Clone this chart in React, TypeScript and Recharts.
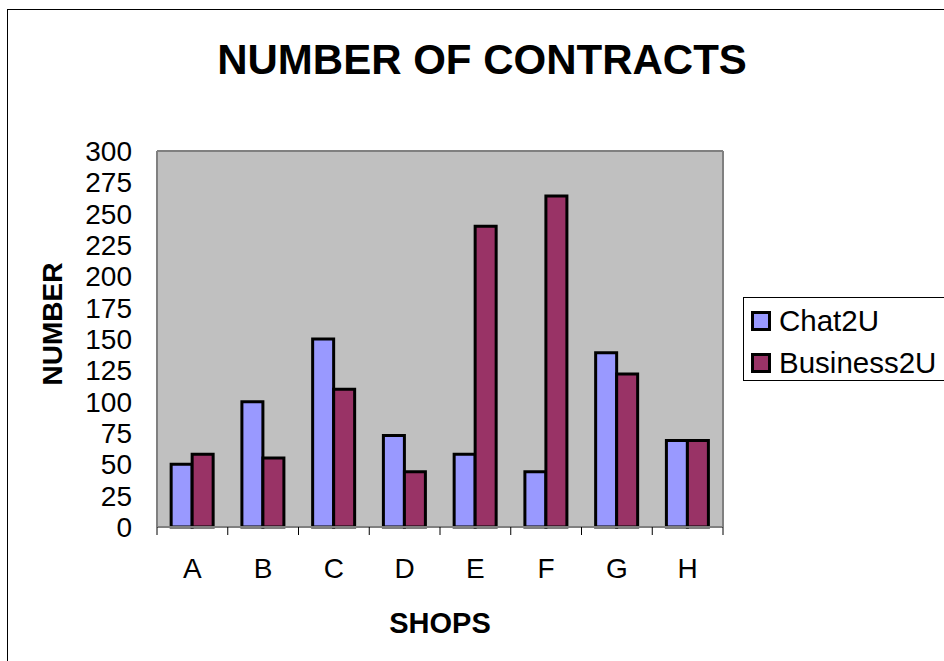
import { Bar, BarChart, CartesianGrid, Legend, XAxis, YAxis } from "recharts"

const shops = ["A", "B", "C", "D", "E", "F", "G", "H"]
const chat2u = [50, 100, 150, 73, 58, 44, 139, 69]
const business2u = [58, 55, 110, 44, 240, 264, 122, 69]
const seriesNames = ["Chat2U", "Business2U"]
const yTicks = [0, 25, 50, 75, 100, 125, 150, 175, 200, 225, 250, 275, 300]

const data = shops.map((shop, i) => ({
  shop,
  chat: chat2u[i],
  business: business2u[i],
}))

const FONT = '"Liberation Sans", Arial, sans-serif'

function LegendBox(props: any) {
  const items = [...(props.payload || [])].sort(
    (a: any, b: any) => seriesNames.indexOf(a.value) - seriesNames.indexOf(b.value)
  )
  return (
    <div
      style={{
        border: "1px solid #000",
        background: "#fff",
        width: 210,
        height: 84,
        boxSizing: "border-box",
        paddingLeft: 7,
        paddingTop: 5,
        fontFamily: FONT,
        fontSize: 29.5,
      }}
    >
      {items.map((it: any) => (
        <div key={it.value} style={{ display: "flex", alignItems: "center", height: 36, marginBottom: 6 }}>
          <span
            style={{
              display: "inline-block",
              width: 20,
              height: 20,
              boxSizing: "border-box",
              border: "3px solid #000",
              background: it.color,
              marginRight: 8,
            }}
          />
          <span style={{ color: "#000" }}>{it.value}</span>
        </div>
      ))}
    </div>
  )
}

// category label plus tick marks on the category boundaries
function ShopTick(props: any) {
  const { x, y, payload, index, width, visibleTicksCount } = props
  const band = width / visibleTicksCount
  const axisY = y - 31
  const left = x - band / 2
  const right = x + band / 2
  return (
    <g>
      <line x1={left} x2={left} y1={axisY} y2={axisY + 8} stroke="#000" strokeWidth={1} />
      {index === visibleTicksCount - 1 && (
        <line x1={right} x2={right} y1={axisY} y2={axisY + 8} stroke="#000" strokeWidth={1} />
      )}
      <text x={x} y={y} dy="0.71em" textAnchor="middle" fontFamily={FONT} fontSize={28} fill="#000">
        {payload.value}
      </text>
    </g>
  )
}

export default function App() {
  return (
    <div
      style={{
        position: "absolute",
        left: 0,
        top: 0,
        width: 944,
        height: 661,
        overflow: "hidden",
        background: "#fff",
      }}
    >
      <div
        style={{
          position: "absolute",
          left: 7,
          top: 9,
          width: 1000,
          height: 700,
          border: "1px solid #000",
        }}
      />
      <div
        style={{
          position: "absolute",
          left: 182,
          top: 39,
          width: 600,
          textAlign: "center",
          fontFamily: FONT,
          fontWeight: "bold",
          fontSize: 42,
          lineHeight: "42px",
          color: "#000",
        }}
      >
        NUMBER OF CONTRACTS
      </div>
      <div style={{ position: "absolute", left: 0, top: 0 }}>
        <BarChart
          width={944}
          height={661}
          data={data}
          margin={{ top: 151, right: 221, left: 0, bottom: 0 }}
          barCategoryGap="20%"
          barGap={0}
        >
          <CartesianGrid
            fill="#c0c0c0"
            stroke="#808080"
            strokeWidth={2}
            horizontalCoordinatesGenerator={(p: any) => [p.offset.top]}
            verticalCoordinatesGenerator={(p: any) => [p.offset.left + p.offset.width]}
          />
          <XAxis
            dataKey="shop"
            height={134}
            interval={0}
            tickLine={false}
            tickSize={0}
            tickMargin={31}
            axisLine={{ stroke: "#808080", strokeWidth: 2 }}
            tick={<ShopTick />}
            label={{
              content: (p: any) => (
                <text
                  x={p.viewBox.x + p.viewBox.width / 2}
                  y={p.viewBox.y + 106}
                  textAnchor="middle"
                  fontFamily={FONT}
                  fontWeight="bold"
                  fontSize={29}
                  fill="#000"
                >
                  SHOPS
                </text>
              ),
            }}
          />
          <YAxis
            width={157}
            domain={[0, 300]}
            ticks={yTicks}
            interval={0}
            tickLine={false}
            tickSize={0}
            tickMargin={25}
            axisLine={{ stroke: "#808080", strokeWidth: 2 }}
            tick={{ fill: "#000", fontSize: 28, fontFamily: FONT }}
            label={{
              content: (p: any) => {
                const cx = p.viewBox.x + 52
                const cy = p.viewBox.y + p.viewBox.height / 2 - 15
                return (
                  <text
                    x={cx}
                    y={cy}
                    transform={`rotate(-90 ${cx} ${cy})`}
                    textAnchor="middle"
                    dominantBaseline="central"
                    fontFamily={FONT}
                    fontWeight="bold"
                    fontSize={28}
                    fill="#000"
                  >
                    NUMBER
                  </text>
                )
              },
            }}
          />
          <Legend
            layout="vertical"
            align="center"
            verticalAlign="middle"
            content={<LegendBox />}
            wrapperStyle={{ left: 743, top: 297, width: 210, height: 84 }}
          />
          <Bar dataKey="chat" name={seriesNames[0]} fill="#9999ff" stroke="#000" strokeWidth={3} isAnimationActive={false} />
          <Bar dataKey="business" name={seriesNames[1]} fill="#993366" stroke="#000" strokeWidth={3} isAnimationActive={false} />
        </BarChart>
      </div>
    </div>
  )
}
